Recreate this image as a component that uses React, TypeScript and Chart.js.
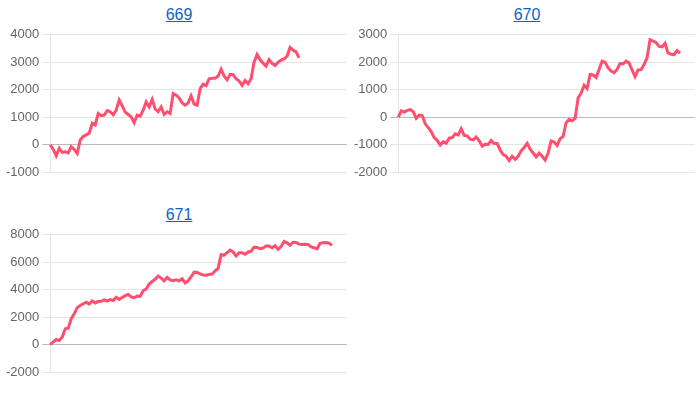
import React, { useEffect, useRef } from "react";
import { Chart, registerables } from "chart.js";

Chart.register(...registerables);

const labelCount = 100;
const categories: string[] = Array.from({ length: labelCount }, (_, i) => String(i + 1));

const titles = ["669", "670", "671"];

const values669 = [
  0, -170, -400, -130, -280, -260, -300, -70, -170, -320,
  170, 300, 360, 420, 780, 720, 1140, 1060, 1080, 1240,
  1200, 1090, 1260, 1630, 1420, 1190, 1100, 1010, 800, 1080,
  1040, 1260, 1560, 1380, 1650, 1300, 1200, 1380, 1100, 1200,
  1140, 1860, 1800, 1700, 1520, 1440, 1520, 1780, 1480, 1440,
  2040, 2200, 2150, 2400, 2420, 2420, 2500, 2750, 2500, 2360,
  2560, 2550, 2400, 2320, 2160, 2340, 2220, 2400, 3000, 3280,
  3090, 2970, 2860, 3100, 2960, 2880, 3000, 3080, 3120, 3220,
  3540, 3440, 3380, 3160,
];

const values670 = [
  0, 230, 190, 250, 280, 200, -40, 80, 60, -240,
  -380, -520, -740, -840, -1010, -890, -950, -760, -740, -600,
  -640, -420, -660, -680, -800, -820, -720, -860, -1050, -980,
  -990, -850, -960, -960, -1190, -1360, -1420, -1580, -1420, -1530,
  -1420, -1220, -1100, -950, -1160, -1300, -1440, -1300, -1420, -1560,
  -1300, -860, -900, -1030, -780, -700, -200, -80, -130, -40,
  700, 880, 1160, 1040, 1560, 1540, 1450, 1740, 2040, 2000,
  1800, 1680, 1620, 1740, 1960, 1940, 2040, 1980, 1720, 1480,
  1720, 1730, 1920, 2160, 2820, 2770, 2720, 2580, 2560, 2690,
  2340, 2290, 2280, 2420, 2330,
];

const values671 = [
  0, 200, 380, 300, 560, 1160, 1200, 1900, 2260, 2700,
  2860, 2980, 3100, 2960, 3180, 3040, 3140, 3160, 3260, 3180,
  3280, 3220, 3460, 3300, 3440, 3570, 3650, 3480, 3420, 3540,
  3520, 3940, 4050, 4420, 4600, 4760, 5000, 4850, 4650, 4900,
  4720, 4660, 4720, 4650, 4800, 4500, 4650, 4950, 5280, 5260,
  5150, 5080, 5060, 5120, 5150, 5370, 5560, 6560, 6520, 6700,
  6880, 6750, 6460, 6700, 6700, 6580, 6750, 6800, 7100, 7080,
  6990, 7040, 7180, 7180, 7060, 7200, 6940, 7150, 7520, 7420,
  7240, 7460, 7440, 7320, 7300, 7320, 7300, 7120, 7060, 6980,
  7380, 7420, 7440, 7400, 7230,
];

const axisMin = [-1000, -2000, -2000];
const axisMax = [4000, 3000, 8000];
const axisStep = [1000, 1000, 2000];

const seriesList = [values669, values670, values671];

function MiniChart({ index }: { index: number }) {
  const ref = useRef<HTMLCanvasElement | null>(null);
  useEffect(() => {
    if (!ref.current) return;
    const chart = new Chart(ref.current, {
      type: "line",
      data: {
        labels: categories,
        datasets: [
          {
            label: titles[index],
            data: seriesList[index],
            borderColor: "rgb(255, 79, 110)",
            backgroundColor: "rgb(255, 79, 110)",
            borderWidth: 3,
            pointRadius: 0,
            pointHoverRadius: 0,
            tension: 0,
            fill: false,
          },
        ],
      },
      options: {
        animation: false,
        responsive: true,
        maintainAspectRatio: false,
        plugins: { legend: { display: false }, tooltip: { enabled: false } },
        scales: {
          x: {
            ticks: { display: false },
            grid: { display: false, drawTicks: false },
            border: { display: false },
          },
          y: {
            min: axisMin[index],
            max: axisMax[index],
            ticks: {
              stepSize: axisStep[index],
              color: "#666",
              font: { size: 13, family: "'Helvetica Neue', Helvetica, Arial, sans-serif" },
              callback: (v: any) => String(v),
            },
            grid: {
              color: (ctx: any) =>
                ctx.tick && ctx.tick.value === 0 ? "rgba(0,0,0,0.27)" : "rgba(0,0,0,0.1)",
            },
            border: { color: "rgba(0,0,0,0.1)" },
          },
        },
      },
    });
    return () => chart.destroy();
  }, [index]);
  return <canvas ref={ref} />;
}

const chartLeft = [3, 351, 3];
const chartWidth = [344, 344, 344];
const titleLeft = [8, 356, 8];
const rowTop = [0, 0, 200];

export default function App() {
  return (
    <div style={{ position: "absolute", left: 0, top: 0, width: 700, height: 400 }}>
      {titles.map((t, i) => (
        <React.Fragment key={t}>
          <div
            style={{
              position: "absolute",
              left: titleLeft[i],
              top: rowTop[i] + 5,
              width: 342,
              textAlign: "center",
              lineHeight: "20px",
              fontSize: 16,
              fontFamily: "Arial, 'Liberation Sans', sans-serif",
            }}
          >
            <a href="#" style={{ color: "#0b64c6", textDecoration: "underline" }}>
              {t}
            </a>
          </div>
          <div
            style={{
              position: "absolute",
              left: chartLeft[i],
              top: rowTop[i] + 24,
              width: chartWidth[i],
              height: 159,
            }}
          >
            <MiniChart index={i} />
          </div>
        </React.Fragment>
      ))}
    </div>
  );
}
